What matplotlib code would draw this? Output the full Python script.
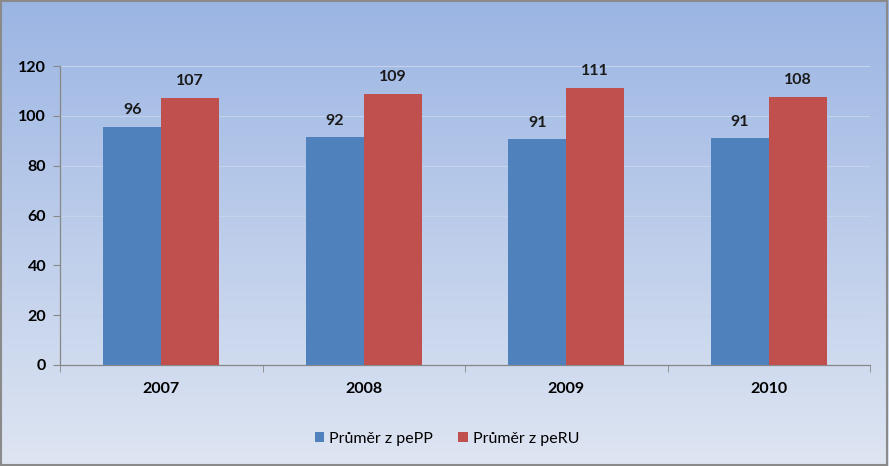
import numpy as np
import matplotlib
matplotlib.use("Agg")
import matplotlib.pyplot as plt
from matplotlib.patches import Rectangle

years = ["2007", "2008", "2009", "2010"]
pepp = [96, 92, 91, 91]
peru = [107, 109, 111, 108]
pepp_true = [95.6, 91.5, 90.7, 91.0]
peru_true = [107.2, 108.8, 111.2, 107.6]
series_names = ["Průměr z pePP", "Průměr z peRU"]
yticks = [0, 20, 40, 60, 80, 100, 120]

BLUE = "#4F81BD"
RED = "#C0504D"

plt.rcParams["font.family"] = ["Lato", "DejaVu Sans"]

W, H = 889, 466
fig = plt.figure(figsize=(W / 100, H / 100), dpi=100)

# gradient background
bg = fig.add_axes([0, 0, 1, 1], zorder=0)
top = np.array([155, 181, 227]) / 255
bot = np.array([222, 229, 242]) / 255
t = np.linspace(0, 1, 256)[:, None]
grad = (top[None, :] * (1 - t) + bot[None, :] * t)[:, None, :]
bg.imshow(grad, aspect="auto", extent=[0, 1, 0, 1])
bg.add_patch(Rectangle((0.001, 0.002), 0.997, 0.995, transform=bg.transAxes,
                       fill=False, ec="#8a8a8a", lw=1.5))
bg.set_axis_off()

# plot area: x 60..870, y 66..365 (px)
ax = fig.add_axes([60 / W, 1 - 365 / H, 810 / W, 299 / H], zorder=1)
ax.patch.set_alpha(0)

x = np.arange(len(years))
bw = 0.286
ax.bar(x - bw / 2, pepp_true, bw, color=BLUE, label=series_names[0], zorder=3)
ax.bar(x + bw / 2, peru_true, bw, color=RED, label=series_names[1], zorder=3)

FS = 11.5
for i in range(len(years)):
    ax.text(x[i] - bw / 2, pepp_true[i] + 3.8, str(pepp[i]), ha="center", va="bottom",
            fontsize=FS, fontweight="bold", color="#1a1a1a")
    ax.text(x[i] + bw / 2, peru_true[i] + 3.8, str(peru[i]), ha="center", va="bottom",
            fontsize=FS, fontweight="bold", color="#1a1a1a")

ax.set_xlim(-0.5, len(years) - 0.5)
ax.set_ylim(0, 120)
ax.set_yticks(yticks)
ax.set_yticklabels([str(v) for v in yticks], fontsize=FS, fontweight="bold")
for v in yticks[1:]:
    ax.axhline(v, color="#c4d2ea", lw=0.8, zorder=1)

ax.set_xticks(x)
ax.set_xticklabels(years, fontsize=FS, fontweight="bold")
ax.tick_params(axis="x", length=0, pad=12)
ax.set_xticks(np.arange(-0.5, len(years) + 0.5, 1), minor=True)
ax.tick_params(axis="x", which="minor", length=5, color="#888888", direction="out")
ax.tick_params(axis="y", length=5, color="#888888", pad=5)

for s in ["top", "right"]:
    ax.spines[s].set_visible(False)
for s in ["left", "bottom"]:
    ax.spines[s].set_color("#888888")
    ax.spines[s].set_linewidth(0.9)

leg = fig.legend(loc="center", bbox_to_anchor=(447 / W, 1 - 439 / H), ncol=2,
                 frameon=False, fontsize=FS, handlelength=0.6, handleheight=0.6,
                 handletextpad=0.3, columnspacing=1.6)

fig.savefig("out.png", dpi=100)
